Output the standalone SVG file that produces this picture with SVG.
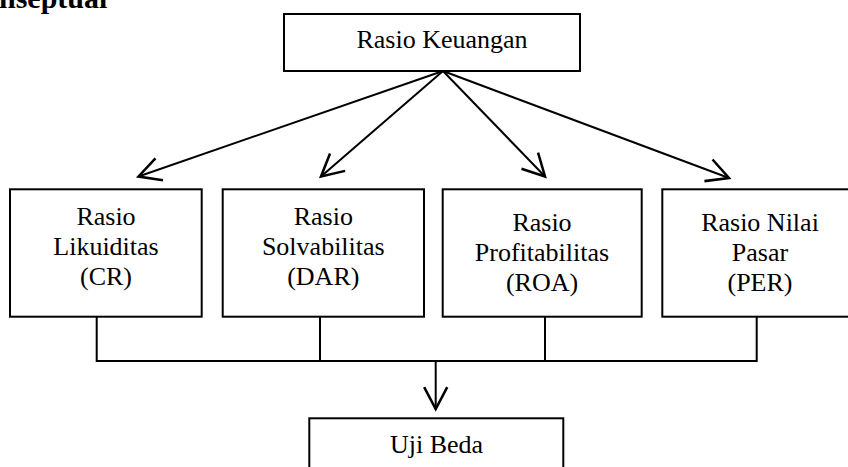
<svg xmlns="http://www.w3.org/2000/svg" width="848" height="467" viewBox="0 0 848 467">
<style>
.box{fill:#fff;stroke:#000;stroke-width:2}
.t{font-family:"Liberation Serif","Times New Roman",serif;font-size:26px;fill:#000;text-anchor:middle}
.h{font-family:"Liberation Serif","Times New Roman",serif;font-size:30px;font-weight:bold;fill:#000}
.c{fill:none;stroke:#000;stroke-width:2}
</style>
<defs>
<marker id="ah" markerUnits="userSpaceOnUse" markerWidth="30" markerHeight="30" refX="0" refY="0" viewBox="-22 -13 24 26" orient="auto" overflow="visible">
<path d="M-19,-10 L0,0 L-19,10" fill="none" stroke="#000" stroke-width="2.2"/>
</marker>
</defs>
<rect width="848" height="467" fill="#fff"/>
<text class="h" x="-1" y="8">nseptual</text>
<g id="connectors">
<line class="c" x1="443" y1="71" x2="138.5" y2="176.5" marker-end="url(#ah)"/>
<line class="c" x1="443" y1="71" x2="321" y2="176.5" marker-end="url(#ah)"/>
<line class="c" x1="443" y1="71" x2="545" y2="176.5" marker-end="url(#ah)"/>
<line class="c" x1="443" y1="71" x2="729" y2="178" marker-end="url(#ah)"/>
<polyline class="c" points="96.7,315 96.7,361 756.7,361 756.7,315"/>
<line class="c" x1="320" y1="316" x2="320" y2="361"/>
<line class="c" x1="545" y1="316" x2="545" y2="361"/>
<line class="c" x1="435.7" y1="361" x2="435.7" y2="409" marker-end="url(#ah)"/>
</g>
<g id="rasio-keuangan">
<rect class="box" x="284" y="14" width="296" height="57"/>
<text class="t" x="442" y="48">Rasio Keuangan</text>
</g>
<g id="likuiditas">
<rect class="box" x="10" y="189.3" width="191.7" height="127.4"/>
<text class="t" x="106" y="225">Rasio</text>
<text class="t" x="106" y="255">Likuiditas</text>
<text class="t" x="106" y="285">(CR)</text>
</g>
<g id="solvabilitas">
<rect class="box" x="222.7" y="189.3" width="201.3" height="127.4"/>
<text class="t" x="323.3" y="225">Rasio</text>
<text class="t" x="323.3" y="255">Solvabilitas</text>
<text class="t" x="323.3" y="285">(DAR)</text>
</g>
<g id="profitabilitas">
<rect class="box" x="442.7" y="189.3" width="199" height="127.4"/>
<text class="t" x="542" y="231">Rasio</text>
<text class="t" x="542" y="261">Profitabilitas</text>
<text class="t" x="542" y="291">(ROA)</text>
</g>
<g id="nilai-pasar">
<rect class="box" x="662.3" y="189.3" width="200" height="127.4"/>
<text class="t" x="760" y="231">Rasio Nilai</text>
<text class="t" x="760" y="261">Pasar</text>
<text class="t" x="760" y="291">(PER)</text>
</g>
<g id="uji-beda">
<rect class="box" x="309.3" y="418.3" width="254" height="70"/>
<text class="t" x="436.5" y="453">Uji Beda</text>
</g>
</svg>
